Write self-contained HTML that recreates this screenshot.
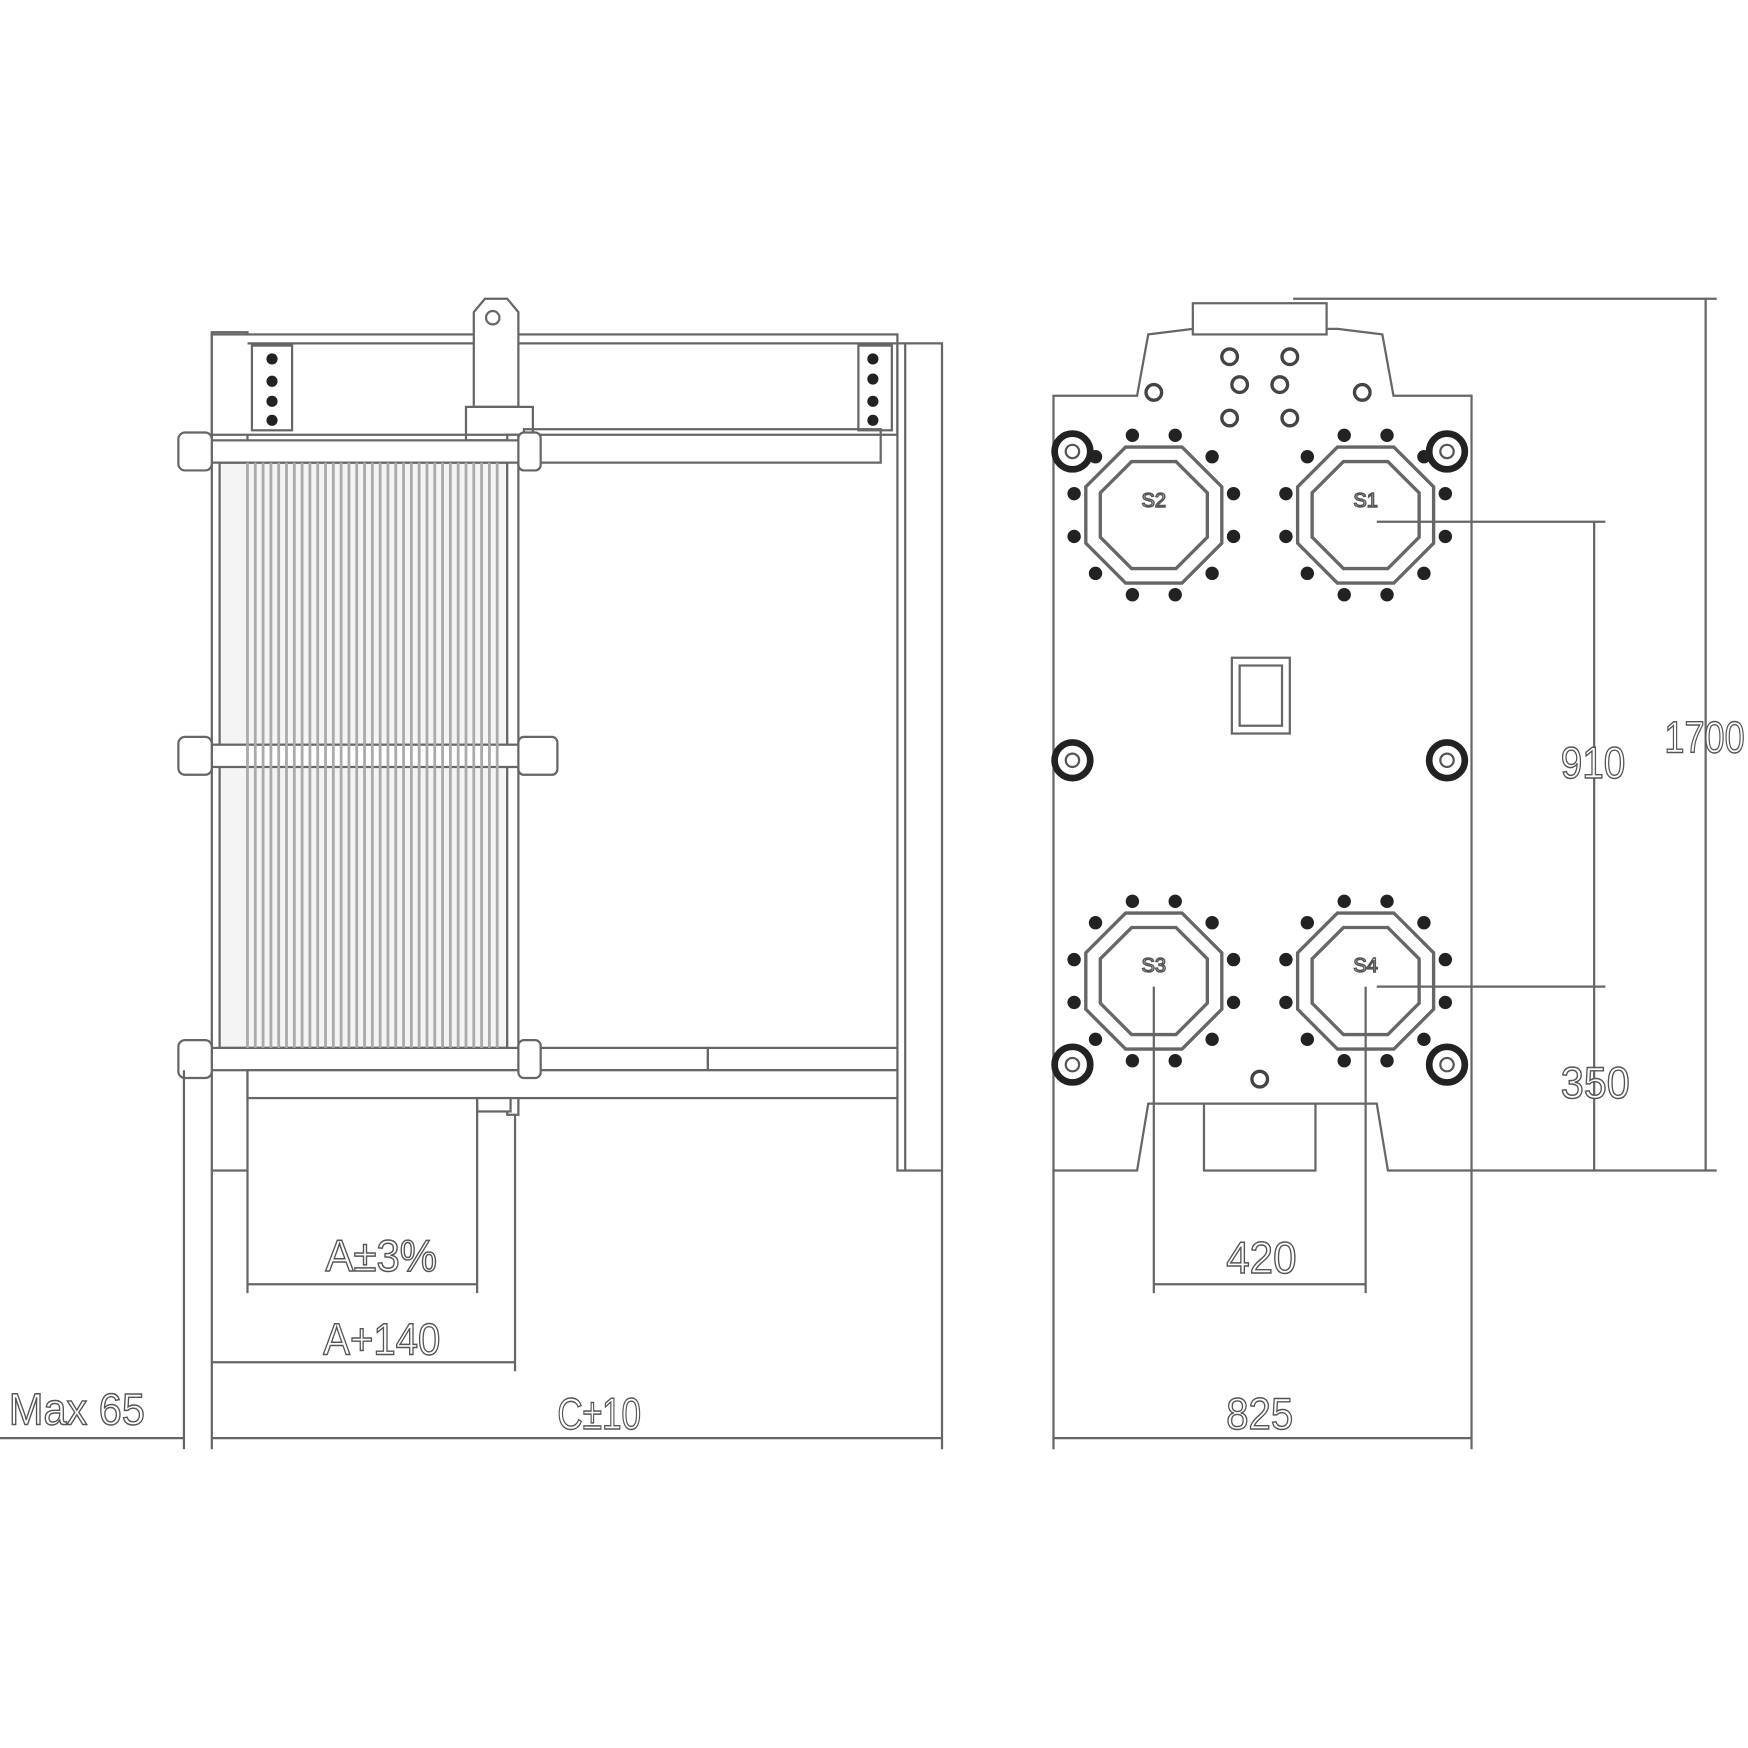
<!DOCTYPE html>
<html><head><meta charset="utf-8"><style>
html,body{margin:0;padding:0;background:#fff;width:1748px;height:1748px;overflow:hidden}
svg{display:block}
text{font-family:"Liberation Sans",sans-serif;fill:#fff;stroke:#555;stroke-width:1.3}
</style></head><body>
<svg id="s" width="1748" height="1748" viewBox="0 0 1568 1568" xmlns="http://www.w3.org/2000/svg">
<g fill="none" stroke="#666" stroke-width="2">
<rect x="190" y="298" width="32" height="752" fill="#fff"/>
<rect x="190" y="300" width="615" height="90" fill="#fff"/>
<line x1="222" y1="308" x2="805" y2="308"/>
<rect x="805" y="308" width="40" height="742" fill="#fff"/>
<line x1="812" y1="308" x2="812" y2="1050"/>
<rect x="226" y="310" width="36" height="76"/>
<rect x="770" y="310" width="30" height="76"/>
<path d="M425 365 L425 280 L435 268 L455 268 L465 280 L465 365 Z" fill="#fff"/>
<circle cx="442" cy="285" r="6"/>
<rect x="418" y="365" width="60" height="30"/>
<rect x="470" y="385" width="320" height="30"/>
<rect x="197" y="415" width="258" height="525" fill="#f4f4f4"/>
<rect x="455" y="390" width="10" height="610" fill="#fff"/>
<rect x="190" y="395" width="285" height="20" fill="#fff"/>
<rect x="190" y="668" width="285" height="20" fill="#fff"/>
<rect x="190" y="940" width="445" height="20" fill="#fff"/>
<rect x="635" y="940" width="170" height="20" fill="#fff"/>
<rect x="222" y="960" width="583" height="25" fill="#fff"/>
<rect x="428" y="985" width="30" height="12" fill="#fff"/>
<rect x="160" y="388" width="30" height="34" rx="6" fill="#fff"/>
<rect x="160" y="661" width="30" height="34" rx="6" fill="#fff"/>
<rect x="160" y="933" width="30" height="34" rx="6" fill="#fff"/>
<rect x="465" y="388" width="20" height="34" rx="5" fill="#fff"/>
<rect x="465" y="661" width="35" height="34" rx="5" fill="#fff"/>
<rect x="465" y="933" width="20" height="34" rx="5" fill="#fff"/>
<line x1="222" y1="1050" x2="222" y2="1160"/>
<line x1="428" y1="985" x2="428" y2="1160"/>
<line x1="222" y1="1152" x2="428" y2="1152"/>
<line x1="190" y1="1050" x2="190" y2="1300"/>
<line x1="462" y1="1000" x2="462" y2="1230"/>
<line x1="190" y1="1222" x2="462" y2="1222"/>
<line x1="845" y1="1050" x2="845" y2="1300"/>
<line x1="190" y1="1290" x2="845" y2="1290"/>
<line x1="165" y1="960" x2="165" y2="1300"/>
<line x1="0" y1="1290" x2="165" y2="1290"/>
<path d="M945 1050 L945 355 L1020 355 L1030 300 L1070 295 L1200 295 L1240 300 L1250 355 L1320 355 L1320 1050 L1245 1050 L1235 990 L1030 990 L1020 1050 Z" fill="#fff"/>
<rect x="1070" y="272" width="120" height="28" fill="#fff"/>
<rect x="1105" y="590" width="52" height="68"/>
<rect x="1112" y="597" width="38" height="54"/>
<rect x="1080" y="990" width="100" height="60" fill="#fff"/>
<line x1="1160" y1="268" x2="1540" y2="268"/>
<line x1="1530" y1="268" x2="1530" y2="1050"/>
<line x1="1320" y1="1050" x2="1540" y2="1050"/>
<line x1="1235" y1="468" x2="1440" y2="468"/>
<line x1="1430" y1="468" x2="1430" y2="1050"/>
<line x1="1235" y1="885" x2="1440" y2="885"/>
<line x1="1035" y1="885" x2="1035" y2="1160"/>
<line x1="1225" y1="885" x2="1225" y2="1160"/>
<line x1="1035" y1="1152" x2="1225" y2="1152"/>
<line x1="945" y1="1050" x2="945" y2="1300"/>
<line x1="1320" y1="1050" x2="1320" y2="1300"/>
<line x1="945" y1="1290" x2="1320" y2="1290"/>
</g>
<g id="dyn"></g>
<g font-size="40">
<text x="292" y="1140" textLength="100" lengthAdjust="spacingAndGlyphs">A±3%</text>
<text x="290" y="1215" textLength="105" lengthAdjust="spacingAndGlyphs">A+140</text>
<text x="500" y="1282" textLength="75" lengthAdjust="spacingAndGlyphs">C±10</text>
<text x="8" y="1278" textLength="122" lengthAdjust="spacingAndGlyphs">Max 65</text>
<text x="1100" y="1142" textLength="63" lengthAdjust="spacingAndGlyphs">420</text>
<text x="1100" y="1282" textLength="60" lengthAdjust="spacingAndGlyphs">825</text>
<text x="1400" y="698" textLength="58" lengthAdjust="spacingAndGlyphs">910</text>
<text x="1400" y="985" textLength="62" lengthAdjust="spacingAndGlyphs">350</text>
<text x="1493" y="675" textLength="72" lengthAdjust="spacingAndGlyphs">1700</text>
</g>
<g font-size="18">
<text x="1024" y="455">S2</text><text x="1214" y="455">S1</text>
<text x="1024" y="872">S3</text><text x="1214" y="872">S4</text>
</g>
</svg>
<script>
var g=document.getElementById('dyn'),h='';
for(var x=222;x<452;x+=7){h+='<line x1="'+x+'" y1="415" x2="'+x+'" y2="940" stroke="#aaa" stroke-width="2.5"/>';}
function oct(cx,cy,r){var p=[];for(var i=0;i<8;i++){var a=Math.PI/8+i*Math.PI/4;p.push((cx+r*Math.cos(a)).toFixed(1)+','+(cy+r*Math.sin(a)).toFixed(1));}return p.join(' ');}
[[1035,462],[1225,462],[1035,880],[1225,880]].forEach(function(c){
 h+='<polygon points="'+oct(c[0],c[1],66)+'" fill="none" stroke="#666" stroke-width="3"/>';
 h+='<polygon points="'+oct(c[0],c[1],52)+'" fill="none" stroke="#666" stroke-width="3"/>';
 for(var i=0;i<12;i++){var a=i*Math.PI/6+Math.PI/12;h+='<circle cx="'+(c[0]+74*Math.cos(a)).toFixed(1)+'" cy="'+(c[1]+74*Math.sin(a)).toFixed(1)+'" r="6" fill="#222"/>';}
});
[[962,405],[1298,405],[962,682],[1298,682],[962,955],[1298,955]].forEach(function(c){
 h+='<circle cx="'+c[0]+'" cy="'+c[1]+'" r="16" fill="#fff" stroke="#222" stroke-width="6"/><circle cx="'+c[0]+'" cy="'+c[1]+'" r="6" fill="none" stroke="#555" stroke-width="2"/>';
});
[[1103,320],[1157,320],[1112,345],[1148,345],[1103,375],[1157,375],[1130,968],[1035,352],[1222,352]].forEach(function(c){
 h+='<circle cx="'+c[0]+'" cy="'+c[1]+'" r="7" fill="none" stroke="#444" stroke-width="3"/>';
});
[[244,322],[244,342],[244,360],[244,377],[783,322],[783,340],[783,360],[783,377]].forEach(function(c){
 h+='<circle cx="'+c[0]+'" cy="'+c[1]+'" r="5" fill="#222"/>';
});
g.innerHTML=h;
</script>
</body></html>
